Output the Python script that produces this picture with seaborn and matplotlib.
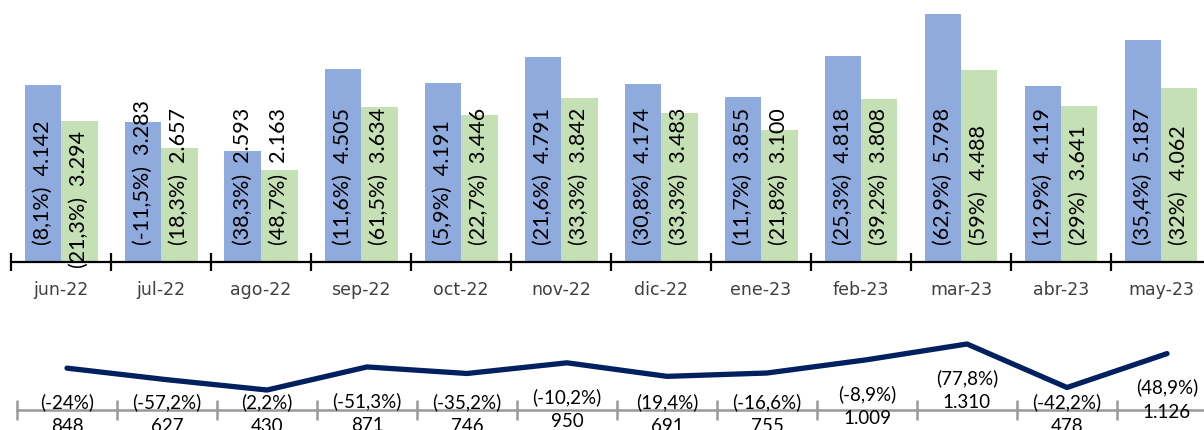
import numpy as np
import pandas as pd
import seaborn as sns
import matplotlib.pyplot as plt

months = ["jun-22", "jul-22", "ago-22", "sep-22", "oct-22", "nov-22",
          "dic-22", "ene-23", "feb-23", "mar-23", "abr-23", "may-23"]
serie_a = [4142, 3283, 2593, 4505, 4191, 4791, 4174, 3855, 4818, 5798, 4119, 5187]
serie_b = [3294, 2657, 2163, 3634, 3446, 3842, 3483, 3100, 3808, 4488, 3641, 4062]
pct_a = [8.1, -11.5, 38.3, 11.6, 5.9, 21.6, 30.8, 11.7, 25.3, 62.9, 12.9, 35.4]
pct_b = [21.3, 18.3, 48.7, 61.5, 22.7, 33.3, 33.3, 21.8, 39.2, 59, 29, 32]
linea = [848, 627, 430, 871, 746, 950, 691, 755, 1009, 1310, 478, 1126]
pct_linea = [-24, -57.2, 2.2, -51.3, -35.2, -10.2, 19.4, -16.6, -8.9, 77.8, -42.2, 48.9]

BLUE = "#8FAADC"
GREEN = "#C5E0B4"
NAVY = "#002060"


def fmt_num(v):
    return f"{v:,}".replace(",", ".")


def fmt_pct(p):
    return "(" + f"{p:g}".replace(".", ",") + "%)"


sns.set_style("white")
plt.rcParams["font.family"] = ["Lato", "DejaVu Sans"]

W, H = 1204, 430
fig = plt.figure(figsize=(W / 100, H / 100), dpi=100)

# top panel: bars
ax = fig.add_axes([11 / W, 1 - 262 / H, 1200 / W, 262 / H])
df = pd.DataFrame({
    "mes": months * 2,
    "valor": serie_a + serie_b,
    "serie": ["a"] * 12 + ["b"] * 12,
})
sns.barplot(data=df, x="mes", y="valor", hue="serie", palette=[BLUE, GREEN],
            saturation=1, width=0.73, gap=0, linewidth=0, legend=False, ax=ax)
ax.set_xlim(-0.5, 11.5)
ax.set_ylim(0, 6130)
ax.set_xlabel("")
ax.set_ylabel("")
ax.set_yticks([])
for s in ["top", "right", "left"]:
    ax.spines[s].set_visible(False)
ax.spines["bottom"].set_color("black")
ax.spines["bottom"].set_linewidth(1.6)
ax.set_xticks(np.arange(12))
ax.set_xticklabels(months, family="DejaVu Sans", fontsize=12.5, color="#404040")
ax.tick_params(axis="x", which="major", bottom=True, length=0, pad=14)
ax.set_xticks(np.arange(-0.5, 12, 1), minor=True)
ax.tick_params(axis="x", which="minor", bottom=True, direction="inout",
               length=13, width=1.6, color="black")

# jun-22 green label sits lower in the original
nudge = {(1, 0): -23}
base = 398
for si, (cont, vals, pcts) in enumerate(zip(ax.containers, [serie_a, serie_b], [pct_a, pct_b])):
    for i, bar in enumerate(cont):
        xc = bar.get_x() + bar.get_width() / 2
        ax.annotate(fmt_pct(pcts[i]) + "  " + fmt_num(vals[i]),
                    xy=(xc, base), xytext=(0, nudge.get((si, i), 0)),
                    textcoords="offset pixels", rotation=90,
                    ha="center", va="bottom", fontsize=15.5, color="black",
                    annotation_clip=False)

# bottom panel: line
ax2 = fig.add_axes([17 / W, 1 - 412.5 / H, 1200 / W, 112.5 / H])
dl = pd.DataFrame({"mes": np.arange(12), "valor": linea})
sns.lineplot(data=dl, x="mes", y="valor", color=NAVY, linewidth=3.8,
             solid_capstyle="round", ax=ax2)
ax2.set_xlim(-0.5, 11.5)
ax2.set_ylim(0, 112.5 / 0.0523)
ax2.set_xlabel("")
ax2.set_ylabel("")
ax2.set_yticks([])
for s in ["top", "right", "left"]:
    ax2.spines[s].set_visible(False)
ax2.spines["bottom"].set_color("#999999")
ax2.spines["bottom"].set_linewidth(1.8)
ax2.spines["bottom"].set_position(("data", 57))
ax2.set_xticks(np.arange(-0.5, 12, 1))
ax2.set_xticklabels([])
ax2.tick_params(axis="x", bottom=True, direction="inout", length=14,
                width=1.8, color="#999999")

for i, v in enumerate(linea):
    y_pct = max(v - 650, 206)
    ax2.text(i, y_pct, fmt_pct(pct_linea[i]), ha="center", va="center",
             fontsize=13.5, color="black", clip_on=False)
    ax2.text(i, y_pct - 478, fmt_num(v), ha="center", va="center",
             fontsize=13.5, color="black", clip_on=False)

fig.savefig("out.png", dpi=100)
